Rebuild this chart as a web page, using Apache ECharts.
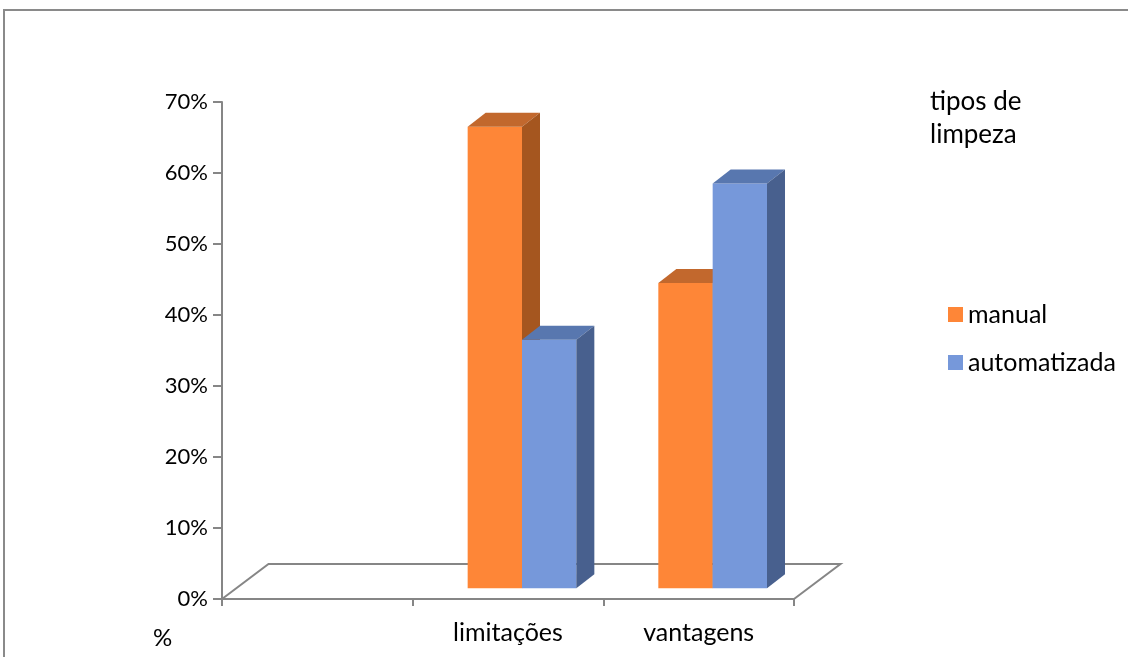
<!DOCTYPE html>
<html>
<head>
<meta charset="utf-8">
<script src="https://cdn.jsdelivr.net/npm/echarts@6/dist/echarts.min.js"></script>
<style>
  html, body { margin: 0; padding: 0; background: #fff; }
  #chart { width: 1128px; height: 657px; }
</style>
</head>
<body>
<div id="chart"></div>
<script>
// Categories and share (fraction) per cleaning type
const categories = ['', 'limitações', 'vantagens'];
const manual = [null, 0.65, 0.43];
const automatizada = [null, 0.35, 0.57];
const yTicks = [0, 0.1, 0.2, 0.3, 0.4, 0.5, 0.6, 0.7];

const FONT = 'Lato, "Open Sans", sans-serif';
const AXIS_GRAY = '#868686';

// Oblique 3D look: front-face shift into the floor, and bar depth
const FACE_DX = 14, FACE_DY = -10.7;
const DEPTH_DX = 18, DEPTH_DY = -14;
const BAR_FRAC = 0.285;

const palette = {
  manual: { front: '#FE8637', top: '#C2682D', side: '#A5561F' },
  automatizada: { front: '#7698DA', top: '#5877AF', side: '#48608E' }
};

function toData(arr) {
  return arr.map((v, i) => [i, v]).filter(d => d[1] != null);
}

function barRenderer(side, colors) {
  return function (params, api) {
    const cat = api.value(0);
    const band = api.size([1, 0])[0];
    const w = band * BAR_FRAC;
    const base = api.coord([cat, 0]);
    const top = api.coord([cat, api.value(1)]);
    const x0 = base[0] + FACE_DX + (side === 0 ? -w : 0);
    const yb = base[1] + FACE_DY;
    const yt = top[1] + FACE_DY;
    return {
      type: 'group',
      children: [
        { type: 'rect', shape: { x: x0, y: yt, width: w, height: yb - yt },
          style: { fill: colors.front } },
        { type: 'polygon', shape: { points: [[x0, yt], [x0 + DEPTH_DX, yt + DEPTH_DY], [x0 + w + DEPTH_DX, yt + DEPTH_DY], [x0 + w, yt]] },
          style: { fill: colors.top } },
        { type: 'polygon', shape: { points: [[x0 + w, yt], [x0 + w + DEPTH_DX, yt + DEPTH_DY], [x0 + w + DEPTH_DX, yb + DEPTH_DY], [x0 + w, yb]] },
          style: { fill: colors.side } }
      ]
    };
  };
}

// Floor outline behind the bars (front edge is the category axis line)
function floorRenderer(params, api) {
  const cs = params.coordSys;
  const yf = cs.y + cs.height;
  const dx = 46.5, dy = -35;
  return {
    type: 'polyline',
    shape: { points: [[cs.x, yf], [cs.x + dx, yf + dy], [cs.x + cs.width + dx, yf + dy], [cs.x + cs.width, yf]] },
    style: { stroke: AXIS_GRAY, lineWidth: 2, fill: null }
  };
}

const chart = echarts.init(document.getElementById('chart'), null, { renderer: 'canvas' });
chart.setOption({
  animation: false,
  backgroundColor: '#fff',
  textStyle: { fontFamily: FONT },
  title: [
    { text: 'tipos de\nlimpeza', left: 925, top: 80,
      textStyle: { fontFamily: FONT, fontSize: 26, fontWeight: 'normal', color: '#000', lineHeight: 33 } },
    { text: '%', left: 148, top: 621,
      textStyle: { fontFamily: FONT, fontSize: 24, fontWeight: 'normal', color: '#000' } }
  ],
  legend: {
    orient: 'vertical', left: 943, top: 297,
    itemWidth: 15, itemHeight: 15, itemGap: 23, icon: 'rect',
    textStyle: { fontFamily: FONT, fontSize: 25, color: '#000' },
    data: ['manual', 'automatizada']
  },
  grid: { left: 222, top: 102, width: 572, height: 497, containLabel: false },
  xAxis: {
    type: 'category', data: categories,
    axisLine: { show: true, lineStyle: { color: AXIS_GRAY, width: 2 } },
    axisTick: { show: true, length: 7, lineStyle: { color: AXIS_GRAY, width: 2 } },
    axisLabel: { fontFamily: FONT, fontSize: 25, color: '#000', margin: 21 }
  },
  yAxis: {
    type: 'value', min: yTicks[0], max: yTicks[yTicks.length - 1], interval: 0.1,
    axisLine: { show: true, lineStyle: { color: AXIS_GRAY, width: 2 } },
    axisTick: { show: true, length: 9, lineStyle: { color: AXIS_GRAY, width: 2 } },
    splitLine: { show: false },
    axisLabel: { fontFamily: FONT, fontSize: 22, color: '#000', margin: 14,
      formatter: v => Math.round(v * 100) + '%' }
  },
  graphic: [
    { type: 'rect', silent: true, z: -10,
      shape: { x: 4, y: 10, width: 1200, height: 800 },
      style: { fill: null, stroke: '#8a8a8a', lineWidth: 2 } }
  ],
  series: [
    { type: 'custom', name: 'floor', data: [[0, 0]], renderItem: floorRenderer, z: 1, silent: true },
    { type: 'custom', name: 'manual', data: toData(manual), renderItem: barRenderer(0, palette.manual),
      itemStyle: { color: palette.manual.front }, z: 2 },
    { type: 'custom', name: 'automatizada', data: toData(automatizada), renderItem: barRenderer(1, palette.automatizada),
      itemStyle: { color: palette.automatizada.front }, z: 3 }
  ]
});
</script>
</body>
</html>
